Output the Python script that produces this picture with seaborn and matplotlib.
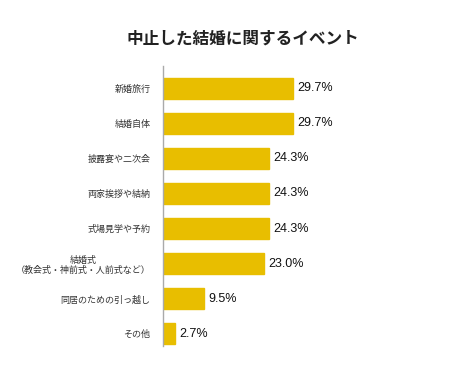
import matplotlib
matplotlib.use("Agg")
import matplotlib.pyplot as plt
import seaborn as sns
import pandas as pd

categories = ["新婚旅行", "結婚自体", "披露宴や二次会", "両家挨拶や結納", "式場見学や予約",
              "結婚式\n（教会式・神前式・人前式など）", "同居のための引っ越し", "その他"]
values = [29.7, 29.7, 24.3, 24.3, 24.3, 23.0, 9.5, 2.7]

sns.set_style("white")
plt.rcParams["font.family"] = ["Noto Sans CJK JP", "DejaVu Sans"]

df = pd.DataFrame({"event": categories, "pct": values})

fig = plt.figure(figsize=(4.5, 3.82), dpi=100)
ax = fig.add_axes([0.362, 0.094, 0.389, 0.733])
sns.barplot(data=df, x="pct", y="event", color="#E8BE00", width=0.6,
            saturation=1, edgecolor="#E8BE00", ax=ax)

for i, v in enumerate(values):
    ax.text(v + 1.0, i, f"{v:.1f}%", va="center", ha="left", fontsize=9,
            family="Liberation Sans", color="#111111")

ax.set_xlim(0, 40)
ax.set_ylim(7.35, -0.63)
ax.set_xlabel("")
ax.set_ylabel("")
ax.set_xticks([])
ax.tick_params(axis="y", length=0, pad=9, labelsize=6.5, labelcolor="#333333")
for lbl in ax.get_yticklabels():
    lbl.set_horizontalalignment("right")
    lbl.set_multialignment("center")
for s in ["top", "right", "bottom"]:
    ax.spines[s].set_visible(False)
ax.spines["left"].set_color("#aaaaaa")
ax.spines["left"].set_linewidth(1.0)

fig.text(0.54, 0.9, "中止した結婚に関するイベント", ha="center", va="center",
         fontsize=12, fontweight="bold", color="#222222")

fig.savefig("out.png", dpi=100)
